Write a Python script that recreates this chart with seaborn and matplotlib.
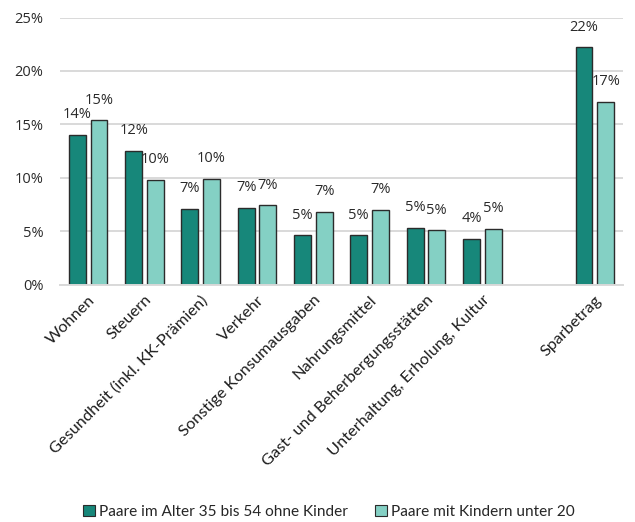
import matplotlib
matplotlib.use("Agg")
import matplotlib.pyplot as plt
import seaborn as sns
import pandas as pd
from matplotlib.patches import Patch

categories = [
    "Wohnen",
    "Steuern",
    "Gesundheit (inkl. KK-Prämien)",
    "Verkehr",
    "Sonstige Konsumausgaben",
    "Nahrungsmittel",
    "Gast- und Beherbergungsstätten",
    "Unterhaltung, Erholung, Kultur",
    "Sparbetrag",
]
series_names = [
    "Paare im Alter 35 bis 54 ohne Kinder",
    "Paare mit Kindern unter 20",
]
ohne_kinder = [14.0, 12.5, 7.1, 7.2, 4.6, 4.6, 5.3, 4.3, 22.2]
mit_kindern = [15.4, 9.8, 9.9, 7.4, 6.8, 7.0, 5.1, 5.2, 17.1]
yticks = [0, 5, 10, 15, 20, 25]

colors = ["#17877a", "#84d0c4"]

df = pd.DataFrame({
    "Kategorie": categories * 2,
    "Gruppe": [series_names[0]] * len(categories) + [series_names[1]] * len(categories),
    "Anteil": ohne_kinder + mit_kindern,
})

# an empty slot separates the savings from the expenditure items
order = categories[:-1] + [" "] + categories[-1:]

sns.set_theme(style="white")
plt.rcParams["font.family"] = ["Lato", "DejaVu Sans"]

fig = plt.figure(figsize=(6.35, 5.22), dpi=100)
ax = fig.add_axes([60 / 635, 1 - 284.5 / 522, 563 / 635, 267 / 522])

sns.barplot(
    data=df, x="Kategorie", y="Anteil", hue="Gruppe", order=order,
    hue_order=series_names, palette=colors, saturation=1, width=0.77, gap=0.22,
    edgecolor="#2b2b2b", linewidth=1.0, legend=False, ax=ax,
)

for container in ax.containers:
    ax.bar_label(container, labels=[f"{v:.0f}%" for v in container.datavalues],
                 padding=9, fontsize=10.5, color="#2a2a2a", family="Open Sans")

ax.set_ylim(0, 25)
ax.set_xlim(-0.5, len(order) - 0.5)
ax.set_yticks(yticks)
ax.set_yticklabels([f"{t}%" for t in yticks], family="Open Sans", fontsize=10.5,
                   color="#2a2a2a")
ax.yaxis.grid(True, color="#d9d9d9", linewidth=1.4)
ax.set_axisbelow(True)
for side in ["left", "right", "top"]:
    ax.spines[side].set_visible(False)
ax.spines["bottom"].set_color("#d9d9d9")
ax.spines["bottom"].set_linewidth(1.4)
ax.tick_params(axis="both", length=0)
ax.tick_params(axis="y", pad=12)
ax.tick_params(axis="x", pad=6)
ax.set_xlabel("")
ax.set_ylabel("")

ax.set_xticks(range(len(order)))
ax.set_xticklabels(order, rotation=45, ha="right", va="top", rotation_mode="anchor",
                   fontsize=11.75, color="#1e1e1e")

handles = [Patch(facecolor=c, edgecolor="#2b2b2b", linewidth=0.8) for c in colors]
fig.legend(handles, series_names, loc="center", bbox_to_anchor=(0.518, 1 - 512 / 522),
           ncol=2, frameon=False, fontsize=11.1, handlelength=0.75, handleheight=0.75,
           handletextpad=0.25, columnspacing=1.8)

fig.savefig("out.png", dpi=100)
